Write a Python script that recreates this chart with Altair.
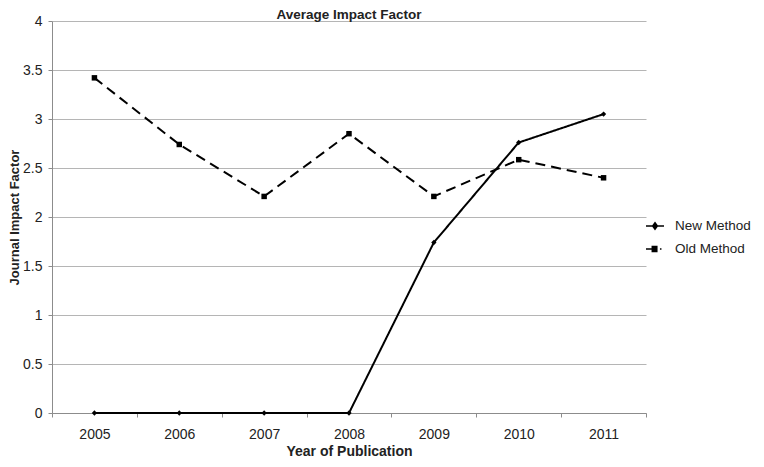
import altair as alt
import pandas as pd

years = ["2005", "2006", "2007", "2008", "2009", "2010", "2011"]
new_method = [0, 0, 0, 0, 1.74, 2.76, 3.05]
old_method = [3.42, 2.74, 2.21, 2.85, 2.21, 2.585, 2.40]
series = ["New Method", "Old Method"]

rows = []
for y, v in zip(years, new_method):
    rows.append({"Year": y, "Value": v, "Method": series[0]})
for y, v in zip(years, old_method):
    rows.append({"Year": y, "Value": v, "Method": series[1]})
df = pd.DataFrame(rows)

FONT = "Liberation Sans"
TXT = "#222222"

x_enc = alt.X(
    "Year:O",
    sort=years,
    scale=alt.Scale(type="band", paddingInner=0, paddingOuter=0),
    axis=alt.Axis(
        title="Year of Publication",
        labelAngle=0,
        tickBand="extent",
        grid=False,
        domainColor="#8c8c8c",
        tickColor="#8c8c8c",
        tickSize=4,
        labelPadding=10,
        labelFontSize=14,
        labelColor=TXT,
        titleFontSize=14,
        titleFontWeight="bold",
        titleColor=TXT,
        titleBaseline="alphabetic",
        titleY=42,
    ),
)
y_enc = alt.Y(
    "Value:Q",
    scale=alt.Scale(domain=[0, 4], nice=False),
    axis=alt.Axis(
        title="Journal Impact Factor",
        values=[0, 0.5, 1, 1.5, 2, 2.5, 3, 3.5, 4],
        format="~g",
        grid=True,
        gridColor="#b5b5b5",
        domainColor="#8c8c8c",
        tickColor="#8c8c8c",
        tickSize=4,
        labelPadding=6,
        labelFontSize=14,
        labelColor=TXT,
        titleFontSize=13,
        titleFontWeight="bold",
        titleColor=TXT,
        titleAngle=-90,
        titleX=-38,
        titleY=196,
        titleBaseline="middle",
    ),
)

lines = alt.Chart(df).mark_line(color="black", strokeWidth=2).encode(
    x=x_enc,
    y=y_enc,
    strokeDash=alt.StrokeDash(
        "Method:N",
        scale=alt.Scale(domain=series, range=[[1, 0], [10, 6]]),
        legend=None,
    ),
)

points = alt.Chart(df).mark_point(filled=True, color="black", opacity=1).encode(
    x=x_enc,
    y=y_enc,
    shape=alt.Shape(
        "Method:N",
        scale=alt.Scale(domain=series, range=["diamond", "square"]),
        legend=None,
    ),
    size=alt.Size(
        "Method:N",
        scale=alt.Scale(domain=series, range=[28, 30]),
        legend=None,
    ),
)

legend_paths = [
    "M-1,0H1M0,-0.36L0.26,0L0,0.36L-0.26,0Z"
    "M-0.1,-0.24H0.1M-0.17,-0.12H0.17M-0.17,0.12H0.17M-0.1,0.24H0.1",
    "M-1,0H-0.3M0.55,0H0.72"
    "M-0.3,-0.27H0.2V0.27H-0.3Z"
    "M-0.3,-0.13H0.2M-0.3,0H0.2M-0.3,0.13H0.2",
]

legend_layer = alt.Chart(df).mark_point(
    filled=False, color="black", strokeWidth=1.5, opacity=0
).encode(
    x=x_enc,
    y=y_enc,
    shape=alt.Shape(
        "Method:N",
        scale=alt.Scale(domain=series, range=legend_paths),
        legend=alt.Legend(
            title=None,
            orient="none",
            legendX=593,
            legendY=195,
            padding=0,
            symbolSize=324,
            symbolStrokeColor="black",
            symbolStrokeWidth=1.5,
            labelFontSize=13.5,
            labelColor=TXT,
            labelFont=FONT,
            labelOffset=10,
            rowPadding=6,
        ),
    ),
)

chart = (
    alt.layer(lines, points, legend_layer)
    .resolve_scale(shape="independent", size="independent")
    .properties(
        width=594,
        height=392,
        title=alt.TitleParams(
            "Average Impact Factor",
            fontSize=13.5,
            fontWeight="bold",
            font=FONT,
            color=TXT,
            offset=2,
            dy=9,
            anchor="middle",
        ),
        autosize=alt.AutoSizeParams(type="none"),
        padding={"left": 44, "top": 13, "right": 110, "bottom": 45},
    )
    .configure(font=FONT)
    .configure_view(stroke=None)
)

chart.save("out.html", embed_options={"renderer": "svg", "actions": False})
